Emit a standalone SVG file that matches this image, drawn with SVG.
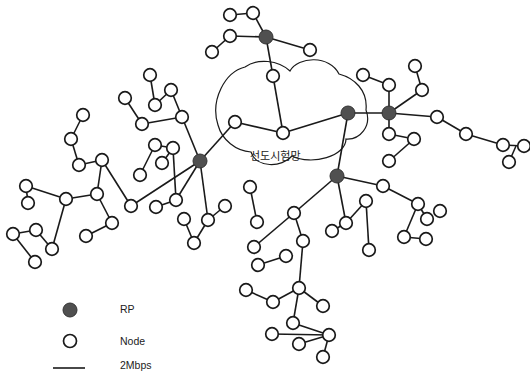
<svg xmlns="http://www.w3.org/2000/svg" width="530" height="371" viewBox="0 0 530 371">
<style>
.e{stroke:#1a1a1a;stroke-width:1.6;fill:none}
.n{fill:#fff;stroke:#1a1a1a;stroke-width:1.7}
.rp{fill:#505050;stroke:#333;stroke-width:1}
.cl{fill:none;stroke:#1a1a1a;stroke-width:1.2}
.t{font-family:"Liberation Sans",Arial,sans-serif;font-size:10.5px;fill:#222}
.k{font-family:"Noto Sans CJK KR","Noto Sans",sans-serif;font-size:11px;fill:#222}
</style>
<rect width="530" height="371" fill="#fff"/>
<g id="cloud"><path class="cl" d="M218,125 C210,100 225,72 245,67 C258,58 278,60 290,71 C298,56 330,55 339,74 C354,78 368,90 366,110 C372,126 360,140 346,139 C346,156 312,166 292,156 C282,168 256,168 251,152 C236,151 222,140 218,125 Z"/><text class="k" x="250" y="160">선도시험망</text></g>
<g id="connectors">
<line class="e" x1="230" y1="15" x2="253" y2="13"/><line class="e" x1="253" y1="13" x2="266" y2="37"/><line class="e" x1="230" y1="36" x2="266" y2="37"/><line class="e" x1="230" y1="36" x2="212" y2="52"/><line class="e" x1="266" y1="37" x2="310" y2="50"/><line class="e" x1="266" y1="37" x2="273" y2="76"/><line class="e" x1="273" y1="76" x2="283" y2="133"/>
<line class="e" x1="283" y1="133" x2="348" y2="113"/><line class="e" x1="283" y1="133" x2="235" y2="122"/><line class="e" x1="348" y1="113" x2="389" y2="113"/><line class="e" x1="348" y1="113" x2="337" y2="176"/>
<line class="e" x1="363" y1="75" x2="389" y2="85"/><line class="e" x1="389" y1="85" x2="389" y2="113"/><line class="e" x1="415" y1="66" x2="422" y2="90"/><line class="e" x1="422" y1="90" x2="389" y2="113"/><line class="e" x1="389" y1="113" x2="437" y2="117"/><line class="e" x1="437" y1="117" x2="466" y2="134"/><line class="e" x1="466" y1="134" x2="503" y2="145"/><line class="e" x1="503" y1="145" x2="525" y2="146"/><line class="e" x1="509" y1="162" x2="516" y2="146"/>
<line class="e" x1="389" y1="113" x2="389" y2="134"/><line class="e" x1="389" y1="134" x2="414" y2="139"/><line class="e" x1="414" y1="139" x2="389" y2="161"/>
<line class="e" x1="337" y1="176" x2="383" y2="186"/><line class="e" x1="337" y1="176" x2="294" y2="213"/><line class="e" x1="337" y1="176" x2="346" y2="223"/>
<line class="e" x1="383" y1="186" x2="418" y2="204"/><line class="e" x1="418" y1="204" x2="404" y2="237"/><line class="e" x1="404" y1="237" x2="426" y2="239"/><line class="e" x1="418" y1="204" x2="427" y2="219"/>
<line class="e" x1="346" y1="223" x2="366" y2="201"/><line class="e" x1="346" y1="223" x2="332" y2="231"/><line class="e" x1="366" y1="201" x2="369" y2="250"/>
<line class="e" x1="294" y1="213" x2="303" y2="241"/><line class="e" x1="303" y1="241" x2="299" y2="288"/><line class="e" x1="299" y1="288" x2="273" y2="302"/><line class="e" x1="299" y1="288" x2="323" y2="306"/><line class="e" x1="299" y1="288" x2="293" y2="323"/><line class="e" x1="293" y1="323" x2="329" y2="335"/><line class="e" x1="272" y1="334" x2="329" y2="335"/><line class="e" x1="299" y1="344" x2="329" y2="335"/><line class="e" x1="329" y1="335" x2="323" y2="357"/><line class="e" x1="273" y1="302" x2="246" y2="290"/>
<line class="e" x1="294" y1="213" x2="254" y2="247"/><line class="e" x1="258" y1="265" x2="286" y2="256"/><line class="e" x1="250" y1="187" x2="257" y2="222"/>
<line class="e" x1="200" y1="161" x2="235" y2="122"/><line class="e" x1="200" y1="161" x2="182" y2="117"/><line class="e" x1="200" y1="161" x2="131" y2="206"/><line class="e" x1="200" y1="161" x2="176" y2="200"/><line class="e" x1="200" y1="161" x2="208" y2="220"/>
<line class="e" x1="182" y1="117" x2="142" y2="124"/><line class="e" x1="182" y1="117" x2="171" y2="90"/><line class="e" x1="171" y1="90" x2="155" y2="105"/><line class="e" x1="155" y1="105" x2="150" y2="75"/><line class="e" x1="142" y1="124" x2="125" y2="98"/>
<line class="e" x1="83" y1="115" x2="71" y2="139"/><line class="e" x1="71" y1="139" x2="79" y2="165"/><line class="e" x1="79" y1="165" x2="102" y2="160"/><line class="e" x1="102" y1="160" x2="97" y2="194"/><line class="e" x1="102" y1="160" x2="131" y2="206"/>
<line class="e" x1="26" y1="186" x2="28" y2="203"/><line class="e" x1="26" y1="186" x2="66" y2="199"/><line class="e" x1="66" y1="199" x2="97" y2="194"/><line class="e" x1="97" y1="194" x2="112" y2="223"/><line class="e" x1="112" y1="223" x2="86" y2="236"/><line class="e" x1="66" y1="199" x2="52" y2="249"/>
<line class="e" x1="13" y1="234" x2="36" y2="230"/><line class="e" x1="36" y1="230" x2="52" y2="249"/><line class="e" x1="13" y1="234" x2="35" y2="262"/>
<line class="e" x1="176" y1="200" x2="156" y2="207"/><line class="e" x1="176" y1="200" x2="173" y2="148"/><line class="e" x1="173" y1="148" x2="155" y2="145"/><line class="e" x1="173" y1="148" x2="162" y2="163"/><line class="e" x1="155" y1="145" x2="140" y2="175"/>
<line class="e" x1="208" y1="220" x2="225" y2="206"/><line class="e" x1="208" y1="220" x2="194" y2="243"/><line class="e" x1="194" y1="243" x2="184" y2="219"/>
</g>
<g id="nodes">
<circle class="n" cx="230" cy="15" r="6.3"/><circle class="n" cx="253" cy="13" r="6.3"/><circle class="n" cx="230" cy="36" r="6.3"/><circle class="n" cx="212" cy="52" r="6.3"/><circle class="n" cx="310" cy="50" r="6.3"/><circle class="n" cx="273" cy="76" r="6.3"/><circle class="n" cx="283" cy="133" r="6.3"/><circle class="n" cx="235" cy="122" r="6.3"/>
<circle class="n" cx="363" cy="75" r="6.3"/><circle class="n" cx="389" cy="85" r="6.3"/><circle class="n" cx="415" cy="66" r="6.3"/><circle class="n" cx="422" cy="90" r="6.3"/><circle class="n" cx="437" cy="117" r="6.3"/><circle class="n" cx="466" cy="134" r="6.3"/><circle class="n" cx="503" cy="145" r="6.3"/><circle class="n" cx="524" cy="146" r="6.3"/><circle class="n" cx="509" cy="162" r="6.3"/>
<circle class="n" cx="389" cy="134" r="6.3"/><circle class="n" cx="414" cy="139" r="6.3"/><circle class="n" cx="389" cy="161" r="6.3"/>
<circle class="n" cx="383" cy="186" r="6.3"/><circle class="n" cx="418" cy="204" r="6.3"/><circle class="n" cx="404" cy="237" r="6.3"/><circle class="n" cx="426" cy="239" r="6.3"/><circle class="n" cx="427" cy="219" r="6.3"/><circle class="n" cx="440" cy="211" r="6.3"/>
<circle class="n" cx="366" cy="201" r="6.3"/><circle class="n" cx="346" cy="223" r="6.3"/><circle class="n" cx="332" cy="231" r="6.3"/><circle class="n" cx="369" cy="250" r="6.3"/>
<circle class="n" cx="294" cy="213" r="6.3"/><circle class="n" cx="303" cy="241" r="6.3"/><circle class="n" cx="299" cy="288" r="6.3"/><circle class="n" cx="273" cy="302" r="6.3"/><circle class="n" cx="323" cy="306" r="6.3"/><circle class="n" cx="293" cy="323" r="6.3"/><circle class="n" cx="329" cy="335" r="6.3"/><circle class="n" cx="272" cy="334" r="6.3"/><circle class="n" cx="299" cy="344" r="6.3"/><circle class="n" cx="323" cy="357" r="6.3"/><circle class="n" cx="246" cy="290" r="6.3"/>
<circle class="n" cx="254" cy="247" r="6.3"/><circle class="n" cx="258" cy="265" r="6.3"/><circle class="n" cx="286" cy="256" r="6.3"/><circle class="n" cx="250" cy="187" r="6.3"/><circle class="n" cx="257" cy="222" r="6.3"/>
<circle class="n" cx="182" cy="117" r="6.3"/><circle class="n" cx="142" cy="124" r="6.3"/><circle class="n" cx="171" cy="90" r="6.3"/><circle class="n" cx="155" cy="105" r="6.3"/><circle class="n" cx="150" cy="75" r="6.3"/><circle class="n" cx="125" cy="98" r="6.3"/>
<circle class="n" cx="83" cy="115" r="6.3"/><circle class="n" cx="71" cy="139" r="6.3"/><circle class="n" cx="79" cy="165" r="6.3"/><circle class="n" cx="102" cy="160" r="6.3"/><circle class="n" cx="97" cy="194" r="6.3"/><circle class="n" cx="131" cy="206" r="6.3"/>
<circle class="n" cx="26" cy="186" r="6.3"/><circle class="n" cx="28" cy="203" r="6.3"/><circle class="n" cx="66" cy="199" r="6.3"/><circle class="n" cx="112" cy="223" r="6.3"/><circle class="n" cx="86" cy="236" r="6.3"/><circle class="n" cx="52" cy="249" r="6.3"/><circle class="n" cx="13" cy="234" r="6.3"/><circle class="n" cx="36" cy="230" r="6.3"/><circle class="n" cx="35" cy="262" r="6.3"/>
<circle class="n" cx="176" cy="200" r="6.3"/><circle class="n" cx="156" cy="207" r="6.3"/><circle class="n" cx="173" cy="148" r="6.3"/><circle class="n" cx="155" cy="145" r="6.3"/><circle class="n" cx="162" cy="163" r="6.3"/><circle class="n" cx="140" cy="175" r="6.3"/>
<circle class="n" cx="208" cy="220" r="6.3"/><circle class="n" cx="225" cy="206" r="6.3"/><circle class="n" cx="194" cy="243" r="6.3"/><circle class="n" cx="184" cy="219" r="6.3"/>
<circle class="rp" cx="266" cy="37" r="7"/><circle class="rp" cx="348" cy="113" r="7"/><circle class="rp" cx="389" cy="113" r="7"/><circle class="rp" cx="337" cy="176" r="7"/><circle class="rp" cx="200" cy="161" r="7"/>
</g>
<g id="legend">
<circle class="rp" cx="70" cy="310" r="7"/><circle class="n" cx="70" cy="341" r="6.5"/><line class="e" x1="53" y1="368" x2="85" y2="368"/>
<text class="t" x="120" y="313">RP</text><text class="t" x="120" y="345">Node</text><text class="t" x="120" y="369">2Mbps</text>
</g>
</svg>
